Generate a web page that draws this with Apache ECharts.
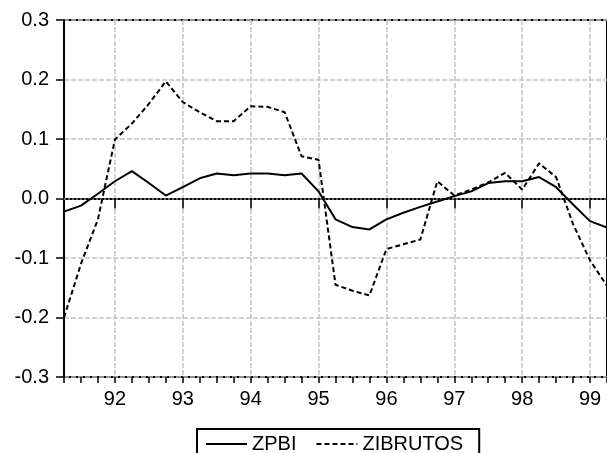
<!DOCTYPE html>
<html>
<head>
<meta charset="utf-8">
<script src="https://cdn.jsdelivr.net/npm/echarts@6/dist/echarts.min.js"></script>
<style>
html,body{margin:0;padding:0;background:#fff;}
#c{width:607px;height:453px;}
</style>
</head>
<body>
<div id="c"></div>
<script>
// Quarterly dates (year + quarter fraction), 1991Q2 .. 1999Q2
const quarters = [91.25, 91.5, 91.75, 92.0, 92.25, 92.5, 92.75, 93.0, 93.25, 93.5, 93.75,
  94.0, 94.25, 94.5, 94.75, 95.0, 95.25, 95.5, 95.75, 96.0, 96.25, 96.5, 96.75,
  97.0, 97.25, 97.5, 97.75, 98.0, 98.25, 98.5, 98.75, 99.0, 99.25];
const zpbi = [-0.022, -0.012, 0.008, 0.029, 0.046, 0.026, 0.005, 0.019, 0.034, 0.042, 0.039,
  0.042, 0.042, 0.039, 0.042, 0.012, -0.035, -0.048, -0.052, -0.035, -0.024, -0.014, -0.005,
  0.004, 0.012, 0.026, 0.029, 0.029, 0.036, 0.019, -0.010, -0.038, -0.049];
const zibrutos = [-0.200, -0.110, -0.035, 0.099, 0.126, 0.159, 0.197, 0.162, 0.145, 0.130, 0.130,
  0.155, 0.154, 0.145, 0.071, 0.065, -0.145, -0.155, -0.163, -0.085, -0.077, -0.069, 0.029,
  0.005, 0.015, 0.027, 0.043, 0.015, 0.059, 0.036, -0.043, -0.104, -0.147];
const yearTicks = [92, 93, 94, 95, 96, 97, 98, 99];
const seriesNames = ['ZPBI', 'ZIBRUTOS'];

const FONT = 'Liberation Sans';
const FS = 20;
const gridStyle = { color: '#c4c4c4', type: [5, 2], width: 1.5 };

const chart = echarts.init(document.getElementById('c'), null, { renderer: 'canvas' });
chart.setOption({
  animation: false,
  backgroundColor: '#fff',
  textStyle: { fontFamily: FONT },
  grid: { left: 64, top: 20, right: -8, bottom: 76, show: true, borderColor: '#000', borderWidth: 2, backgroundColor: 'transparent' },
  legend: {
    left: 197, top: 429,
    padding: [5, 16, 10, 8],
    borderColor: '#000', borderWidth: 2,
    itemWidth: 41, itemHeight: 10, itemGap: 19,
    itemStyle: { color: 'rgba(0,0,0,0)', borderColor: 'rgba(0,0,0,0)', borderWidth: 0, opacity: 0 },
    textStyle: { fontFamily: FONT, fontSize: FS, color: '#000' },
    data: seriesNames
  },
  xAxis: [
    {
      type: 'value', min: 91.25, max: 99.25,
      axisLine: { show: true, lineStyle: { color: '#000', width: 2 } },
      axisTick: { show: true, length: 10, lineStyle: { color: '#000', width: 1.5 }, customValues: yearTicks },
      axisLabel: { show: true, customValues: yearTicks, fontFamily: FONT, fontSize: FS, color: '#000', margin: 12,
        formatter: v => String(Math.round(v)) },
      splitLine: { show: true, lineStyle: gridStyle }
    },
    {
      type: 'value', min: 91.25, max: 99.25, interval: 0.25, position: 'bottom',
      axisLine: { show: false },
      axisTick: { show: true, length: 6, lineStyle: { color: '#000', width: 1.5 } },
      axisLabel: { show: false },
      splitLine: { show: false }
    }
  ],
  yAxis: {
    type: 'value', min: -0.3, max: 0.3, interval: 0.1,
    axisLine: { show: true, lineStyle: { color: '#000', width: 2 } },
    axisTick: { show: true, length: 8, lineStyle: { color: '#000', width: 1.5 } },
    axisLabel: { fontFamily: FONT, fontSize: FS, color: '#000', margin: 15,
      formatter: v => v.toFixed(1) },
    splitLine: { show: true, lineStyle: gridStyle }
  },
  series: [
    {
      name: seriesNames[0], type: 'line', xAxisIndex: 0, symbol: 'none',
      data: quarters.map((q, i) => [q, zpbi[i]]),
      lineStyle: { color: '#000', width: 2, type: 'solid' },
      itemStyle: { color: '#000' },
      markLine: {
        silent: true, symbol: 'none', label: { show: false },
        lineStyle: { color: '#8a8a8a', type: [2, 2], width: 1.5 },
        data: [{ yAxis: 0 }],
        z: 1
      },
      z: 3
    },
    {
      name: seriesNames[1], type: 'line', xAxisIndex: 0, symbol: 'none',
      data: quarters.map((q, i) => [q, zibrutos[i]]),
      lineStyle: { color: '#000', width: 2, type: [5, 3] },
      itemStyle: { color: '#000' },
      z: 3
    }
  ]
});
</script>
</body>
</html>
